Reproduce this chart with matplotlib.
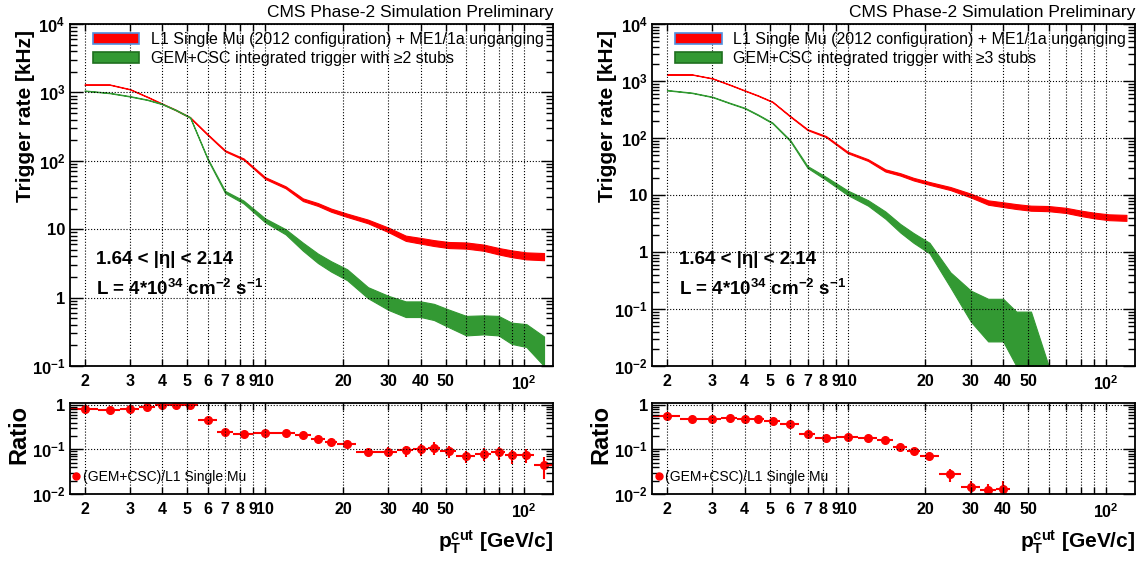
#!/usr/bin/env python3
import numpy as np
import matplotlib
matplotlib.use("Agg")
import matplotlib.pyplot as plt
from matplotlib.patches import Patch
from matplotlib.lines import Line2D
from matplotlib.ticker import FixedLocator, FixedFormatter, LogLocator, NullFormatter, NullLocator

plt.rcParams['font.family'] = ['Liberation Sans', 'DejaVu Sans']
plt.rcParams['mathtext.fontset'] = 'custom'
plt.rcParams['mathtext.rm'] = 'Liberation Sans'
plt.rcParams['mathtext.bf'] = 'Liberation Sans:bold'
plt.rcParams['mathtext.it'] = 'Liberation Sans:italic'

# pT threshold bins (GeV/c)
pt_edges = [1.75, 2.25, 2.75, 3.25, 3.75, 4.25, 4.75, 5.5, 6.5, 7.5, 9, 11, 13, 15, 17, 19,
            22.5, 27.5, 32.5, 37.5, 42.5, 47.5, 55, 65, 75, 85, 95, 110, 130]

# L1 Single Mu (2012 configuration) + ME1/1a unganging, rate [kHz]
rate_l1 = [1300, 1300, 1110, 860, 680, 555, 430, 240, 140, 106, 56, 41, 27, 23, 19, 16,
           13, 9.8, 7.4, 6.8, 6.3, 5.9, 5.8, 5.4, 4.8, 4.4, 4.1, 4.0]
err_l1 = [8, 8, 7.5, 6.5, 6, 5.3, 4.6, 3.5, 2.6, 2.3, 1.7, 1.4, 1.2, 1.1, 1.0, 0.9,
          0.8, 0.75, 0.65, 0.65, 0.62, 0.6, 0.6, 0.56, 0.52, 0.5, 0.48, 0.48]

# GEM+CSC integrated trigger with >=2 stubs
rate_gem2 = [1060, 980, 875, 780, 675, 555, 430, 105, 35, 25, 13.5, 9.2, 5.6, 3.8, 2.9, 2.2,
             1.2, 0.86, 0.7, 0.7, 0.64, 0.52, 0.41, 0.42, 0.41, 0.32, 0.3, 0.17]
err_gem2 = [7, 7, 6.5, 6, 5.5, 5, 4.5, 2, 1.3, 1.2, 0.9, 0.8, 0.75, 0.6, 0.5, 0.4,
            0.22, 0.2, 0.18, 0.18, 0.17, 0.15, 0.13, 0.13, 0.13, 0.11, 0.11, 0.1]
ratio_2 = [0.8, 0.75, 0.8, 0.9, 0.97, 1.0, 1.0, 0.45, 0.25, 0.22, 0.23, 0.23, 0.21, 0.17, 0.15, 0.13,
           0.087, 0.089, 0.095, 0.1, 0.11, 0.092, 0.071, 0.08, 0.087, 0.073, 0.076, 0.044]
ratio_err_2 = [0.015, 0.015, 0.015, 0.015, 0.015, 0.015, 0.015, 0.02, 0.012, 0.011, 0.012, 0.012,
               0.012, 0.011, 0.011, 0.011, 0.014, 0.022, 0.026, 0.03, 0.034, 0.028, 0.022, 0.025,
               0.028, 0.026, 0.027, 0.022]

# GEM+CSC integrated trigger with >=3 stubs
rate_gem3 = [690, 620, 525, 410, 335, 255, 183, 90, 31, 19.6, 11, 7.3, 4.5, 2.65, 1.8, 1.2,
             0.34, 0.135, 0.089, 0.089, 0.045, 0.045, 0, 0, 0, 0, 0, 0]
err_gem3 = [6, 5.5, 5, 4.5, 4, 3.5, 3, 2, 1.2, 1.2, 1.0, 0.8, 0.65, 0.45, 0.35, 0.25,
            0.1, 0.075, 0.062, 0.062, 0.045, 0.045, 0, 0, 0, 0, 0, 0]
ratio_3 = [0.55, 0.48, 0.48, 0.5, 0.49, 0.47, 0.43, 0.38, 0.22, 0.185, 0.19, 0.185, 0.16, 0.115,
           0.092, 0.071, 0.028, 0.014, 0.012, 0.013, 0, 0, 0, 0, 0, 0, 0, 0]
ratio_err_3 = [0.015, 0.015, 0.015, 0.015, 0.015, 0.015, 0.015, 0.015, 0.012, 0.01, 0.01, 0.01,
               0.01, 0.008, 0.007, 0.008, 0.009, 0.006, 0.005, 0.0065, 0, 0, 0, 0, 0, 0, 0, 0]

x_ticks = [2, 3, 4, 5, 6, 7, 8, 9, 10, 20, 30, 40, 50, 60, 70, 80, 90, 100]
x_ticklabels = ['2', '3', '4', '5', '6', '7', '8', '9', '10', '20', '30', '40', '50',
                '', '', '', '', r'$\mathbf{10^{2}}$']

RED = '#ff0000'
GREEN = '#339933'


def decade_label(v):
    e = int(round(np.log10(v)))
    if e == 0:
        return '1'
    if e == 1:
        return '10'
    return r'$\mathbf{10^{%d}}$' % e


def style_axis(ax, ymin, ymax):
    ax.set_xscale('log')
    ax.set_yscale('log')
    ax.set_xlim(pt_edges[0], pt_edges[-1])
    ax.set_ylim(ymin, ymax)
    ax.xaxis.set_major_locator(FixedLocator(x_ticks))
    ax.xaxis.set_major_formatter(FixedFormatter(x_ticklabels))
    ax.xaxis.set_minor_locator(NullLocator())
    decades = [10.0 ** k for k in range(int(np.floor(np.log10(ymin))), int(np.ceil(np.log10(ymax))) + 1)]
    decades = [d for d in decades if ymin * 0.999 <= d <= ymax * 1.001]
    ax.yaxis.set_major_locator(FixedLocator(decades))
    ax.yaxis.set_major_formatter(FixedFormatter([decade_label(d) for d in decades]))
    ax.yaxis.set_minor_locator(LogLocator(base=10, subs=np.arange(2, 10), numticks=20))
    ax.yaxis.set_minor_formatter(NullFormatter())
    ax.tick_params(which='both', direction='in', top=True, right=True, width=1)
    ax.tick_params(axis='x', which='major', length=5, labelsize=11.5, pad=6)
    ax.tick_params(axis='y', which='major', length=9, labelsize=12, pad=3)
    ax.tick_params(axis='y', which='minor', length=5)
    for lab in ax.get_xticklabels() + ax.get_yticklabels():
        lab.set_fontweight('bold')
    for sp in ax.spines.values():
        sp.set_linewidth(1.3)
    ax.grid(True, which='major', ls=':', color='black', lw=0.8)
    ax.set_axisbelow(False)


def band(ax, x, y, e, color, ymin):
    y = np.asarray(y, float)
    e = np.asarray(e, float)
    lo = np.clip(y - e, ymin, None)
    hi = np.clip(y + e, ymin, None)
    alive = np.where(hi > ymin)[0]
    n = min(alive[-1] + 2, len(x))
    ax.fill_between(x[:n], lo[:n], hi[:n], color=color, edgecolor=color, lw=0.8)


def draw_panel(fig, left, rate_gem, err_gem, ratio, ratio_err, ymin, nstubs):
    edges = np.array(pt_edges)
    centers = 0.5 * (edges[:-1] + edges[1:])
    xerr = [centers - edges[:-1], edges[1:] - centers]

    ax = fig.add_axes([left, 0.3499, 0.4226, 0.6075])
    style_axis(ax, ymin, 1e4)
    band(ax, centers, rate_l1, err_l1, RED, ymin)
    band(ax, centers, rate_gem, err_gem, GREEN, ymin)
    ax.set_ylabel('Trigger rate [kHz]', fontsize=15, fontweight='bold')
    ax.yaxis.set_label_coords(-0.072, 0.73)

    handles = [Patch(facecolor=RED, edgecolor='#4f8fe0', lw=1.2),
               Patch(facecolor=GREEN, edgecolor='#1f6f1f', lw=1.2)]
    labels = ['L1 Single Mu (2012 configuration) + ME1/1a unganging',
              'GEM+CSC integrated trigger with \u2265%d stubs' % nstubs]
    ax.legend(handles, labels, loc='upper left', bbox_to_anchor=(0.042, 0.985), frameon=False,
              fontsize=11.5, handlelength=2.9, handleheight=0.68, handletextpad=0.72,
              labelspacing=0.26, borderaxespad=0, borderpad=0.2)

    ax.text(0.055, 0.31, '1.64 < |\u03b7| < 2.14', transform=ax.transAxes,
            fontsize=13.5, fontweight='bold', va='center')
    ax.text(0.055, 0.224,
            r'L = 4*10$^{\mathbf{34}}$ cm$^{\mathbf{-2}}$ s$^{\mathbf{-1}}$',
            transform=ax.transAxes, fontsize=13.5, fontweight='bold', va='center')
    ax.text(1.0, 1.02, 'CMS Phase-2 Simulation Preliminary', transform=ax.transAxes,
            ha='right', va='baseline', fontsize=12.5)

    rx = fig.add_axes([left, 0.1226, 0.4226, 0.1616])
    style_axis(rx, 0.01, 1.1)
    ratio = np.asarray(ratio, float)
    ratio_err = np.asarray(ratio_err, float)
    keep = ratio > 0
    rx.errorbar(centers[keep], ratio[keep],
                xerr=[xerr[0][keep], xerr[1][keep]], yerr=ratio_err[keep],
                fmt='o', color=RED, ms=5.5, elinewidth=1.5, capsize=0)
    rx.set_ylabel('Ratio', fontsize=17, fontweight='bold')
    rx.yaxis.set_label_coords(-0.081, 0.65)
    rx.set_xlabel(r'$\mathbf{p_{T}^{cut}}$ [GeV/c]', fontsize=15, fontweight='bold', ha='right')
    rx.xaxis.set_label_coords(1.0, -0.38)
    rx.legend([Line2D([], [], marker='o', color=RED, ls='none', ms=5)],
              ['(GEM+CSC)/L1 Single Mu'], loc='lower left', bbox_to_anchor=(0.0, 0.08),
              frameon=False, fontsize=10, handlelength=0.6, handletextpad=0.15,
              borderaxespad=0, borderpad=0.2)


def main(output):
    fig = plt.figure(figsize=(11.44, 5.63), dpi=100)
    draw_panel(fig, 0.0608, rate_gem2, err_gem2, ratio_2, ratio_err_2, 0.1, 2)
    draw_panel(fig, 0.5699, rate_gem3, err_gem3, ratio_3, ratio_err_3, 0.01, 3)
    fig.savefig(output, dpi=100)


if __name__ == "__main__":
    main('out.png')
